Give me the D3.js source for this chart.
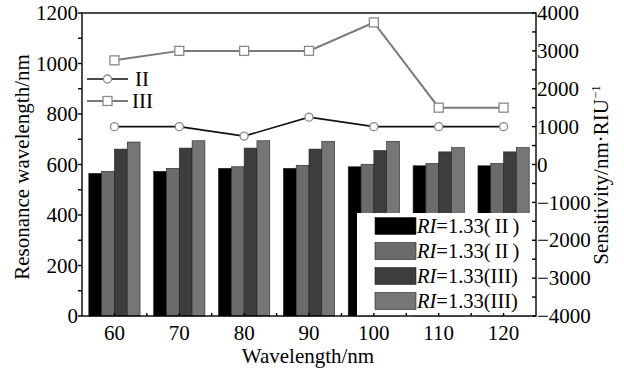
<!DOCTYPE html>
<html>
<head>
<meta charset="utf-8">
<script src="https://cdn.jsdelivr.net/npm/d3@7"></script>
<style>
body{margin:0;background:#fff;}
text{font-family:"Liberation Serif","Times New Roman",serif;}
</style>
</head>
<body>
<svg id="chart" width="624" height="370"></svg>
<script>
//数据
var categories=[60,70,80,90,100,110,120];
var ri_II_a=[565,573,585,585,591,595,595];
var ri_II_b=[573,585,591,597,601,604,604];
var ri_III_a=[661,665,665,661,655,650,650];
var ri_III_b=[689,694,694,692,692,667,667];
var sens_II=[1000,1000,750,1250,1000,1000,1000];
var sens_III=[2750,3000,3000,3000,3750,1500,1500];
var leftTicks=[0,200,400,600,800,1000,1200];
var rightTicks=[-4000,-3000,-2000,-1000,0,1000,2000,3000,4000];
var barNames=["II","II","III","III"];

var barColors=["#000000","#6b6b6b","#3d3d3d","#767676"];
var L=82,R=536,T=13,B=316;
var svg=d3.select("#chart");

var scale_x=d3.scaleBand().domain(categories).range([L,R]).paddingInner(0.21).paddingOuter(0.105);
var scale_y=d3.scaleLinear().domain([0,1200]).range([B,T]);
var scale_s=d3.scaleLinear().domain([-4000,4000]).range([B,T]);
var sub_x=d3.scaleBand().domain([0,1,2,3]).range([0,scale_x.bandwidth()]);

//柱状图
var series=[ri_II_a,ri_II_b,ri_III_a,ri_III_b];
var bars=svg.append("g");
series.forEach(function(vals,k){
    bars.selectAll(null)
        .data(vals)
        .enter().append("rect")
        .attr("x",function(d,i){return scale_x(categories[i])+sub_x(k);})
        .attr("y",function(d){return scale_y(d);})
        .attr("width",sub_x.bandwidth())
        .attr("height",function(d){return B-scale_y(d);})
        .attr("fill",barColors[k])
        .attr("stroke","#222")
        .attr("stroke-width",0.6);
});

//右下图例
var lg=svg.append("g");
lg.append("rect").attr("x",357).attr("y",213).attr("width",R-357).attr("height",B-213).attr("fill","#fff");
barNames.forEach(function(n,k){
    var cy=226+k*25;
    lg.append("rect").attr("x",375).attr("y",cy-8.5).attr("width",41).attr("height",17)
        .attr("fill",barColors[k]).attr("stroke","#222").attr("stroke-width",0.6);
    var t=lg.append("text").attr("x",417).attr("y",cy+7).attr("font-size",20.5);
    t.append("tspan").attr("font-style","italic").text("RI");
    t.append("tspan").text(n=="II"?"=1.33(\u2009II\u2009)":"=1.33(III)");
});

//折线 (灵敏度)
function drawSeries(vals,color,shape){
    var line=d3.line()
        .x(function(d,i){return scale_x(categories[i])+scale_x.bandwidth()/2;})
        .y(function(d){return scale_s(d);});
    svg.append("path").datum(vals).attr("d",line)
        .attr("fill","none").attr("stroke",color).attr("stroke-width",shape=="circle"?1.6:2);
    var g=svg.append("g");
    vals.forEach(function(d,i){
        var px=scale_x(categories[i])+scale_x.bandwidth()/2,py=scale_s(d);
        marker(g,px,py,shape);
    });
}
function marker(g,px,py,shape){
    if(shape=="circle")
        g.append("circle").attr("cx",px).attr("cy",py).attr("r",4)
            .attr("fill","#fff").attr("stroke","#8a8a8a").attr("stroke-width",1.3);
    else
        g.append("rect").attr("x",px-4.5).attr("y",py-4.5).attr("width",9).attr("height",9)
            .attr("fill","#fff").attr("stroke","#8a8a8a").attr("stroke-width",1.3);
}
drawSeries(sens_II,"#111","circle");
drawSeries(sens_III,"#7a7a7a","square");

//左上图例
var ll=svg.append("g");
ll.append("line").attr("x1",87).attr("x2",128).attr("y1",79).attr("y2",79).attr("stroke","#111").attr("stroke-width",1.6);
marker(ll,107.5,79,"circle");
ll.append("text").attr("x",135).attr("y",86).attr("font-size",21).text("II");
ll.append("line").attr("x1",87).attr("x2",128).attr("y1",101).attr("y2",101).attr("stroke","#7a7a7a").attr("stroke-width",2);
marker(ll,107.5,101,"square");
ll.append("text").attr("x",132).attr("y",108).attr("font-size",21).text("III");

//坐标轴
var ax=svg.append("g").attr("stroke","#000").attr("stroke-width",1.4);
ax.append("rect").attr("x",L).attr("y",T).attr("width",R-L).attr("height",B-T).attr("fill","none");
d3.range(0,1201,100).forEach(function(v){
    ax.append("line").attr("x1",L-4).attr("x2",L).attr("y1",scale_y(v)).attr("y2",scale_y(v));
});
d3.range(-4000,4001,500).forEach(function(v){
    ax.append("line").attr("x1",R-4).attr("x2",R).attr("y1",scale_s(v)).attr("y2",scale_s(v));
});
categories.forEach(function(c,i){
    var cx=scale_x(c)+scale_x.bandwidth()/2;
    ax.append("line").attr("x1",cx).attr("x2",cx).attr("y1",B).attr("y2",B-3);
    if(i>0){
        var bx=L+i*scale_x.step();
        ax.append("line").attr("x1",bx).attr("x2",bx).attr("y1",B).attr("y2",B-3);
    }
});

var lab=svg.append("g").attr("font-size",21).attr("fill","#000");
leftTicks.forEach(function(v){
    lab.append("text").attr("x",78).attr("y",scale_y(v)).attr("dy","0.34em")
        .attr("text-anchor","end").text(v);
});
rightTicks.forEach(function(v){
    lab.append("text").attr("x",537).attr("y",scale_s(v)).attr("dy","0.34em")
        .text(d3.format("d")(v));
});
categories.forEach(function(c){
    lab.append("text").attr("x",scale_x(c)+scale_x.bandwidth()/2).attr("y",340)
        .attr("text-anchor","middle").text(c);
});

//标题
svg.append("text").attr("x",308).attr("y",363).attr("text-anchor","middle").attr("font-size",21).text("Wavelength/nm");
svg.append("text").attr("transform","translate(29,167) rotate(-90)").attr("text-anchor","middle")
    .attr("font-size",21).text("Resonance wavelength/nm");
var rt=svg.append("text").attr("transform","translate(608,175) rotate(-90)").attr("text-anchor","middle").attr("font-size",21);
rt.append("tspan").text("Sensitivity/nm\u00b7RIU");
rt.append("tspan").attr("font-size",13).attr("dy",-8).text("\u22121");
</script>
</body>
</html>
